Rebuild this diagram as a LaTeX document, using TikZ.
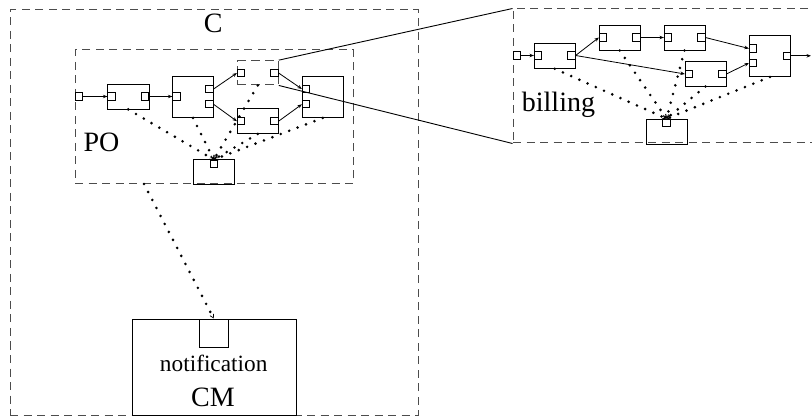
\documentclass[tikz,border=0pt]{standalone}
\usepackage{fontspec}
\setmainfont{Liberation Serif}
\usetikzlibrary{arrows.meta}
\begin{document}
\begin{tikzpicture}[x=1pt,y=-1pt,
  box/.style={draw,line width=0.9pt,rectangle,inner sep=0pt,minimum width=41pt,minimum height=24.5pt},
  bigbox/.style={box,minimum height=41pt},
  dbox/.style={draw=black!70,line width=1pt,dash pattern=on 8pt off 5.5pt,rectangle,inner sep=0pt},
  port/.style={draw,line width=0.9pt,rectangle,inner sep=0pt,minimum width=7.3pt,minimum height=7.3pt},
  flow/.style={line width=0.8pt,-{Stealth[length=4.5pt,width=3.5pt]}},
  zoomline/.style={line width=0.9pt},
  dots/.style={line width=2.9pt,line cap=round,dash pattern=on 0pt off 9pt,
    -{Straight Barb[length=3.5pt,width=4pt,line width=0.7pt]}},
  big/.style={inner sep=0pt,font=\fontsize{28}{30}\selectfont},
  mid/.style={inner sep=0pt,font=\fontsize{23.3}{26}\selectfont}]
\clip (0,0) rectangle (812,417);
% outer C
\node[dbox,minimum width=408pt,minimum height=405pt] (C) at (214,212.5) {};
\node[big,anchor=base] (Clab) at (213.3,33) {C};
% PO composite
\node[dbox,minimum width=278pt,minimum height=134pt] (PO) at (214,117) {};
\node[big,anchor=base west] (POlab) at (83.3,151.7) {PO};
\node[port] (pin) at (79,96.5) {};
\node[box,minimum width=41.5pt,minimum height=25pt] (A) at (128.25,96.5) {};
\node[port] (Al) at (111.5,96.5) {};
\node[port] (Ar) at (145.2,96.5) {};
\node[bigbox] (B) at (193,97) {};
\node[port] (Bl) at (176.5,96.5) {};
\node[port] (Bt) at (209.5,89) {};
\node[port] (Bb) at (209.5,104.3) {};
\node[dbox,dash pattern=on 9pt off 5pt,minimum width=41pt,minimum height=24.3pt] (D) at (257.8,72.8) {};
\node[port] (Dl) at (241,73) {};
\node[port] (Dr) at (274.5,73) {};
\node[box] (E) at (257.8,121.2) {};
\node[port] (El) at (241,121.2) {};
\node[port] (Er) at (274.5,121.2) {};
\node[bigbox] (F) at (322.8,97) {};
\node[port] (Ft) at (306,89) {};
\node[port] (Fb) at (306,104.3) {};
\node[box] (G) at (213.8,172.2) {};
\node[port] (Gp) at (213.8,163.7) {};
\draw[flow] (pin) -- (Al);
\draw[flow] (Ar) -- (Bl);
\draw[flow] (Bt.east) -- (Dl.west);
\draw[flow] (Bb.east) -- (El.west);
\draw[flow] (Dr.east) -- (Ft.west);
\draw[flow] (Er.east) -- (Fb.west);
\foreach \s in {A,B,D,E,F} \draw[dots] (\s.south) -- (Gp.north);
% billing composite
\node[dbox,minimum width=337pt,minimum height=134pt] (bill) at (681.5,76) {};
\node[big,anchor=base west] (billlab) at (521.7,111.7) {billing};
\node[port] (bin) at (517,55.5) {};
\node[box,minimum height=25pt] (b1) at (554.7,55.8) {};
\node[port] (b1l) at (538,55.5) {};
\node[port] (b1r) at (571.5,55.5) {};
\node[box] (b2) at (619.7,37.8) {};
\node[port] (b2l) at (603,37.5) {};
\node[port] (b2r) at (636.3,37.5) {};
\node[box] (b3) at (684.5,37.8) {};
\node[port] (b3l) at (668,37.5) {};
\node[port] (b3r) at (701.3,37.5) {};
\node[box] (b4) at (705.5,73.8) {};
\node[port] (b4l) at (689,74) {};
\node[port] (b4r) at (722.3,74) {};
\node[bigbox,minimum height=41.5pt] (b5) at (770,55.8) {};
\node[port] (b5t) at (753,48.5) {};
\node[port] (b5b) at (753,63) {};
\node[port] (b5r) at (786.8,55.8) {};
\coordinate (bout) at (811,55.8);
\node[box,minimum height=25pt] (bG) at (667,131.5) {};
\node[port] (bGp) at (666.5,122.7) {};
\draw[flow] (bin) -- (b1l);
\draw[flow] (b1r.east) -- (b2l.west);
\draw[flow] (b1r.east) -- (b4l.west);
\draw[flow] (b2r) -- (b3l);
\draw[flow] (b3r.east) -- (b5t.west);
\draw[flow] (b4r.east) -- (b5b.west);
\draw[flow] (b5r) -- (bout);
\foreach \s in {b1,b2,b3,b4,b5} \draw[dots] (\s.south) -- (bGp.north);
% zoom lines
\draw[zoomline] (D.north east) -- (bill.north west);
\draw[zoomline] (D.south east) -- (bill.south west);
% CM
\node[draw,line width=0.9pt,rectangle,inner sep=0pt,minimum width=163.5pt,minimum height=96pt] (CM) at (214.25,367) {};
\node[port,minimum width=28.7pt,minimum height=28.7pt] (CMp) at (213.7,333.3) {};
\node[mid,anchor=base] (notif) at (213.7,371.7) {notification};
\node[big,anchor=base] (CMlab) at (213,406.7) {CM};
\coordinate (POd) at (144,184);
\draw[dots] (POd) -- (CMp.north);
\end{tikzpicture}
\end{document}
